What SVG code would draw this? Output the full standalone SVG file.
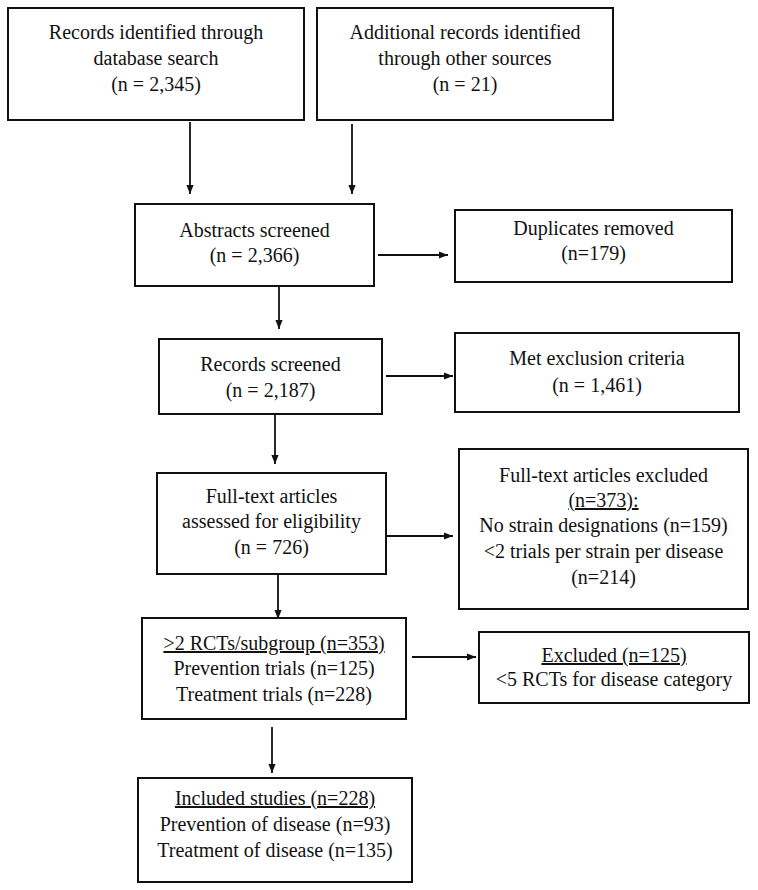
<svg xmlns="http://www.w3.org/2000/svg" width="758" height="890" viewBox="0 0 758 890">
<style>
.box{fill:#fff;stroke:#111;stroke-width:2}
text{font-family:'Liberation Serif','Times New Roman',Tinos,'DejaVu Serif',serif;font-size:20px;fill:#111;text-anchor:middle}
.u{text-decoration:underline}
.c{stroke:#111;stroke-width:1.8;fill:none}
</style>
<defs>
<marker id="ah" viewBox="0 0 10 10" refX="10" refY="5" markerWidth="9" markerHeight="9" markerUnits="userSpaceOnUse" orient="auto">
<path d="M0,1 L10,5 L0,9 Z" fill="#111"/>
</marker>
</defs>
<rect width="758" height="890" fill="#fff"/>
<g id="connectors">
<line class="c" x1="190" y1="122" x2="190" y2="194" marker-end="url(#ah)"/>
<line class="c" x1="352" y1="124" x2="352" y2="194" marker-end="url(#ah)"/>
<line class="c" x1="378" y1="255" x2="448" y2="255" marker-end="url(#ah)"/>
<line class="c" x1="279" y1="287" x2="279" y2="329" marker-end="url(#ah)"/>
<line class="c" x1="386" y1="376" x2="453" y2="376" marker-end="url(#ah)"/>
<line class="c" x1="275" y1="415" x2="275" y2="464" marker-end="url(#ah)"/>
<line class="c" x1="387" y1="536" x2="453" y2="536" marker-end="url(#ah)"/>
<line class="c" x1="278" y1="575" x2="278" y2="619" marker-end="url(#ah)"/>
<line class="c" x1="412" y1="657" x2="476" y2="657" marker-end="url(#ah)"/>
<line class="c" x1="272" y1="727" x2="272" y2="773" marker-end="url(#ah)"/>
</g>
<g font-family="Liberation Serif, Times New Roman, DejaVu Serif, serif">
<g id="n1"><rect class="box" x="8" y="8" width="296" height="112"/>
<text x="156" y="39">Records identified through</text>
<text x="156" y="65">database search</text>
<text x="156" y="91">(n = 2,345)</text></g>
<g id="n2"><rect class="box" x="317" y="8" width="296" height="112"/>
<text x="465" y="39">Additional records identified</text>
<text x="465" y="65">through other sources</text>
<text x="465" y="91">(n = 21)</text></g>
<g id="n3"><rect class="box" x="135" y="204" width="239" height="82"/>
<text x="254.5" y="237">Abstracts screened</text>
<text x="254.5" y="262">(n = 2,366)</text></g>
<g id="n4"><rect class="box" x="455" y="210" width="277" height="72"/>
<text x="593.5" y="235">Duplicates removed</text>
<text x="593.5" y="260">(n=179)</text></g>
<g id="n5"><rect class="box" x="159" y="339" width="223" height="75"/>
<text x="270.5" y="371">Records screened</text>
<text x="270.5" y="397">(n = 2,187)</text></g>
<g id="n6"><rect class="box" x="455" y="333" width="284" height="79"/>
<text x="597" y="365">Met exclusion criteria</text>
<text x="597" y="392">(n = 1,461)</text></g>
<g id="n7"><rect class="box" x="157" y="473" width="229" height="101"/>
<text x="271.5" y="503">Full-text articles</text>
<text x="271.5" y="528">assessed for eligibility</text>
<text x="271.5" y="554">(n = 726)</text></g>
<g id="n8"><rect class="box" x="459" y="449" width="289" height="160"/>
<text x="603.5" y="482">Full-text articles excluded</text>
<text x="603.5" y="507" class="u">(n=373):</text>
<text x="603.5" y="532">No strain designations (n=159)</text>
<text x="603.5" y="558">&lt;2 trials per strain per disease</text>
<text x="603.5" y="584">(n=214)</text></g>
<g id="n9"><rect class="box" x="142" y="618" width="264" height="101"/>
<text x="274" y="650" class="u">&gt;2 RCTs/subgroup (n=353)</text>
<text x="274" y="675">Prevention trials (n=125)</text>
<text x="274" y="701">Treatment trials (n=228)</text></g>
<g id="n10"><rect class="box" x="479" y="632" width="270" height="71"/>
<text x="614" y="662" class="u">Excluded (n=125)</text>
<text x="614" y="686">&lt;5 RCTs for disease category</text></g>
<g id="n11"><rect class="box" x="138" y="778" width="274" height="104"/>
<text x="275" y="805" class="u">Included studies (n=228)</text>
<text x="275" y="831">Prevention of disease (n=93)</text>
<text x="275" y="857">Treatment of disease (n=135)</text></g>
</g>
</svg>
